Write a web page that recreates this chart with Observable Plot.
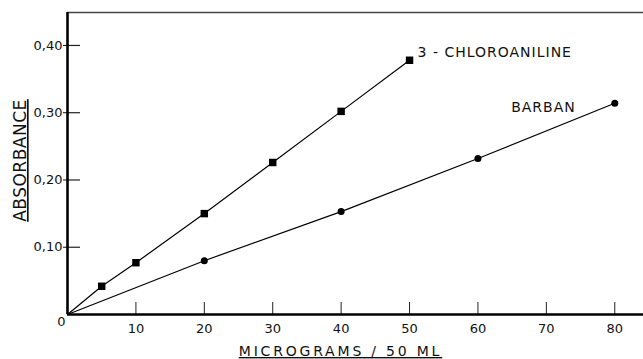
<!DOCTYPE html>
<html>
<head>
<meta charset="utf-8">
<script src="https://cdn.jsdelivr.net/npm/d3@7"></script>
<script src="https://cdn.jsdelivr.net/npm/@observablehq/plot@0.6"></script>
<style>
  html, body { margin: 0; padding: 0; background: #fff; }
  #chart svg { display: block; }
</style>
</head>
<body>
<div id="chart"></div>
<script>
// ---- data ----
const seriesNames = ["3 - CHLOROANILINE", "BARBAN"];
const chloroConc = [5, 10, 20, 30, 40, 50];
const chloroAbs = [0.042, 0.077, 0.150, 0.226, 0.302, 0.378];
const barbanConc = [20, 40, 60, 80];
const barbanAbs = [0.080, 0.153, 0.232, 0.314];
const xTicks = [10, 20, 30, 40, 50, 60, 70, 80];
const xTickLabels = ["10", "20", "30", "40", "50", "60", "70", "80"];
const yTicks = [0.1, 0.2, 0.3, 0.4];
const yTickLabels = ["0,10", "0,20", "0,30", "0,40"];
const originLabel = ["0"];
const xTitle = "MICROGRAMS / 50 ML";
const yTitle = "ABSORBANCE";
const xDomain = [0, 84.2];
const yDomain = [0, 0.449];

// ---- build tables ----
const chloroPts = chloroConc.map((c, i) => ({x: c, y: chloroAbs[i]}));
const barbanPts = barbanConc.map((c, i) => ({x: c, y: barbanAbs[i]}));
const chloroLine = [{x: 0, y: 0}, ...chloroPts];
const barbanLine = [{x: 0, y: 0}, ...barbanPts];

const W = 643, H = 359;
const mL = 67, mR = 0, mT = 12, mB = 45;
const plotW = W - mL - mR, plotH = H - mT - mB;

const chart = Plot.plot({
  width: W,
  height: H,
  marginLeft: mL,
  marginRight: mR,
  marginTop: mT,
  marginBottom: mB,
  x: {domain: xDomain},
  y: {domain: yDomain},
  style: {fontFamily: "DejaVu Sans", background: "#fff", color: "#111"},
  marks: [
    // top border line
    Plot.ruleY([yDomain[1]], {stroke: "#444", strokeWidth: 1.4}),
    // inner tick marks
    Plot.ruleX(xTicks, {x: d => d, insetTop: plotH - 12, stroke: "#222", strokeWidth: 1}),
    Plot.ruleY(yTicks, {y: d => d, insetRight: plotW - 13, stroke: "#222", strokeWidth: 1.2}),
    // axes
    Plot.axisX(xTicks, {tickSize: 0, tickPadding: 9, fontSize: 13, label: null,
      tickFormat: (d) => xTickLabels[xTicks.indexOf(d)]}),
    Plot.axisY(yTicks, {tickSize: 4, tickPadding: 1, fontSize: 13, label: null,
      tickFormat: (d) => yTickLabels[yTicks.indexOf(d)]}),
    Plot.text(originLabel, {x: () => 0, y: () => 0, text: d => d, dx: -6, dy: 7, fontSize: 13, fill: "#111"}),
    // axis lines
    Plot.ruleX([0], {stroke: "#000", strokeWidth: 2.6}),
    Plot.ruleY([0], {stroke: "#000", strokeWidth: 2.6}),
    // series lines
    Plot.line(chloroLine, {x: "x", y: "y", stroke: "#000", strokeWidth: 1.2}),
    Plot.line(barbanLine, {x: "x", y: "y", stroke: "#000", strokeWidth: 1.2}),
    // markers
    Plot.dot(chloroPts, {x: "x", y: "y", symbol: "square", r: 4.2, fill: "#000", stroke: "none"}),
    Plot.dot(barbanPts, {x: "x", y: "y", symbol: "circle", r: 3.5, fill: "#000", stroke: "none"}),
    // series labels
    Plot.text([chloroPts[chloroPts.length - 1]], {x: "x", y: "y", text: () => seriesNames[0],
      textAnchor: "start", dx: 8, dy: -8, fontSize: 14, fill: "#111"}),
    Plot.text([barbanPts[barbanPts.length - 1]], {x: "x", y: "y", text: () => seriesNames[1],
      textAnchor: "end", dx: -39, dy: 4, fontSize: 14, fill: "#111"}),
    // axis titles
    Plot.text([xTitle], {frameAnchor: "bottom", text: d => d, textAnchor: "middle", lineAnchor: "middle",
      dx: -15, dy: 37, fontSize: 14, fill: "#111"}),
    Plot.text([yTitle], {frameAnchor: "left", text: d => d, textAnchor: "middle", lineAnchor: "middle",
      rotate: -90, dx: -47, dy: -3, fontSize: 17, fill: "#111"})
  ]
});

document.getElementById("chart").appendChild(chart);

// styling touches: underline titles, letter spacing for lettering
d3.select(chart).selectAll("text").each(function() {
  const t = this.textContent;
  if (t === xTitle) {
    d3.select(this).style("text-decoration", "underline").style("letter-spacing", "2.8px");
  } else if (t === yTitle) {
    d3.select(this).style("text-decoration", "underline").style("letter-spacing", "0.5px");
  } else if (t === seriesNames[0] || t === seriesNames[1]) {
    d3.select(this).style("letter-spacing", "1px");
  }
});
</script>
</body>
</html>
